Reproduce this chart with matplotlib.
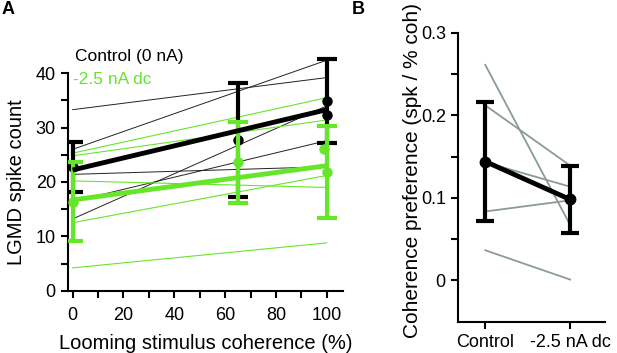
import matplotlib.pyplot as plt
from matplotlib.ticker import FixedLocator, FuncFormatter

plt.rcParams['font.family'] = ['Liberation Sans', 'DejaVu Sans']

GREEN = '#66e62a'
GRAY = '#8a9b98'

# Panel A: spike count vs looming coherence
coherence = [0, 65, 100]
ctrl_mean = [22.7, 27.7, 34.9]
ctrl_err = [4.6, 10.5, 7.7]
dc_mean = [16.35, 23.65, 21.85]
dc_err = [7.25, 7.45, 8.45]

# extra points near 100 %
ctrl_extra = [32.3]
dc_extra = [26.0]

# linear fits (value at 0 % and at 100 %)
fit_x = [0, 100]
ctrl_fit = [22.2, 33.3]
dc_fit = [16.7, 23.0]
ctrl_cells = [
    [33.3, 39.2],
    [26.0, 42.4],
    [21.4, 22.8],
    [16.4, 27.6],
    [13.2, 34.0],
]
dc_cells = [
    [25.3, 35.5],
    [24.8, 31.4],
    [20.2, 19.0],
    [12.5, 21.2],
    [4.2, 8.8],
]

# Panel B: coherence preference
conditions = ['Control', '-2.5 nA dc']
pref_mean = [0.144, 0.098]
pref_lo = [0.072, 0.057]
pref_hi = [0.216, 0.139]
pref_cells = [
    [0.261, 0.067],
    [0.212, 0.139],
    [0.143, 0.1135],
    [0.0835, 0.097],
    [0.0365, 0.001],
]

W, H = 617, 353
fig = plt.figure(figsize=(W / 100, H / 100), dpi=100)


def box(x0, x1, ytop, ybot):
    return [x0 / W, 1 - ybot / H, (x1 - x0) / W, (ybot - ytop) / H]


def style_axes(ax):
    for s in ['top', 'right']:
        ax.spines[s].set_visible(False)
    for s in ['left', 'bottom']:
        ax.spines[s].set_linewidth(1.5)
    ax.tick_params(which='both', direction='out', length=5, width=1.5,
                   labelsize=13, pad=4)


# ---- A ----
axA = fig.add_axes(box(68.3, 343.3, 51.5, 290.7))
style_axes(axA)
axA.tick_params(axis='x', which='both', pad=7)

for y0, y1 in ctrl_cells:
    axA.plot(fit_x, [y0, y1], color='#222222', lw=0.7, zorder=1)
for y0, y1 in dc_cells:
    axA.plot(fit_x, [y0, y1], color=GREEN, lw=0.8, zorder=1)

axA.errorbar(coherence, ctrl_mean, yerr=ctrl_err, fmt='o', color='black',
             ms=6.5, elinewidth=3, capsize=7.5, capthick=3, zorder=2)
axA.plot([100] * len(ctrl_extra), ctrl_extra, 'o', color='black', ms=6.5, zorder=2)
axA.errorbar(coherence, dc_mean, yerr=dc_err, fmt='o', color=GREEN,
             ms=6.5, elinewidth=3, capsize=7.5, capthick=3, zorder=3)
axA.plot([99] * len(dc_extra), dc_extra, 'o', color=GREEN, ms=6.5, zorder=3)

axA.plot(fit_x, ctrl_fit, color='black', lw=3.5, zorder=4, solid_capstyle='butt')
axA.plot(fit_x, dc_fit, color=GREEN, lw=3.5, zorder=5, solid_capstyle='butt')

axA.set_xlim(-1.7, 106.5)
axA.set_ylim(0, 44)
axA.spines['left'].set_bounds(0, 40)
axA.set_xticks([0, 20, 40, 60, 80, 100])
axA.xaxis.set_minor_locator(FixedLocator([10, 30, 50, 70, 90]))
axA.set_yticks([0, 10, 20, 30, 40])
axA.yaxis.set_minor_locator(FixedLocator([5, 15, 25, 35]))
axA.set_xlabel('Looming stimulus coherence (%)', fontsize=14.5, labelpad=7)

fig.text(17 / W, 1 - 182 / H, 'LGMD spike count', rotation=90, fontsize=14.5,
         ha='center', va='center')
fig.text(75 / W, 1 - 57 / H, 'Control (0 nA)', fontsize=12.5, color='black',
         ha='left', va='center')
fig.text(73 / W, 1 - 79 / H, '-2.5 nA dc', fontsize=12.5, color=GREEN,
         ha='left', va='center')

# ---- B ----
axB = fig.add_axes(box(458.3, 605, 32.7, 321.7))
style_axes(axB)

for y0, y1 in pref_cells:
    axB.plot([0, 1], [y0, y1], color=GRAY, lw=1.3, zorder=1)

yerr = [[m - lo for m, lo in zip(pref_mean, pref_lo)],
        [hi - m for m, hi in zip(pref_mean, pref_hi)]]
axB.errorbar([0, 1], pref_mean, yerr=yerr, fmt='none', ecolor='black',
             elinewidth=3, capsize=6.5, capthick=3, zorder=2)
axB.plot([0, 1], pref_mean, '-o', color='black', lw=3.5, ms=7.5, zorder=3)

axB.set_xlim(-0.318, 1.41)
axB.set_ylim(-0.05, 0.3)
axB.set_xticks([0, 1])
axB.set_xticklabels(conditions)
axB.set_yticks([0, 0.1, 0.2, 0.3])
axB.yaxis.set_minor_locator(FixedLocator([0.05, 0.15, 0.25]))
axB.yaxis.set_major_formatter(FuncFormatter(lambda v, p: '0' if abs(v) < 1e-9 else f'{v:.1f}'))

fig.text(412 / W, 1 - 170 / H, 'Coherence preference (spk / % coh)',
         rotation=90, fontsize=15, ha='center', va='center')

fig.text(2 / W, 1 - 10 / H, 'A', fontsize=13, fontweight='bold', ha='left', va='center')
fig.text(352 / W, 1 - 10 / H, 'B', fontsize=13, fontweight='bold', ha='left', va='center')

fig.savefig('out.png', dpi=100)
